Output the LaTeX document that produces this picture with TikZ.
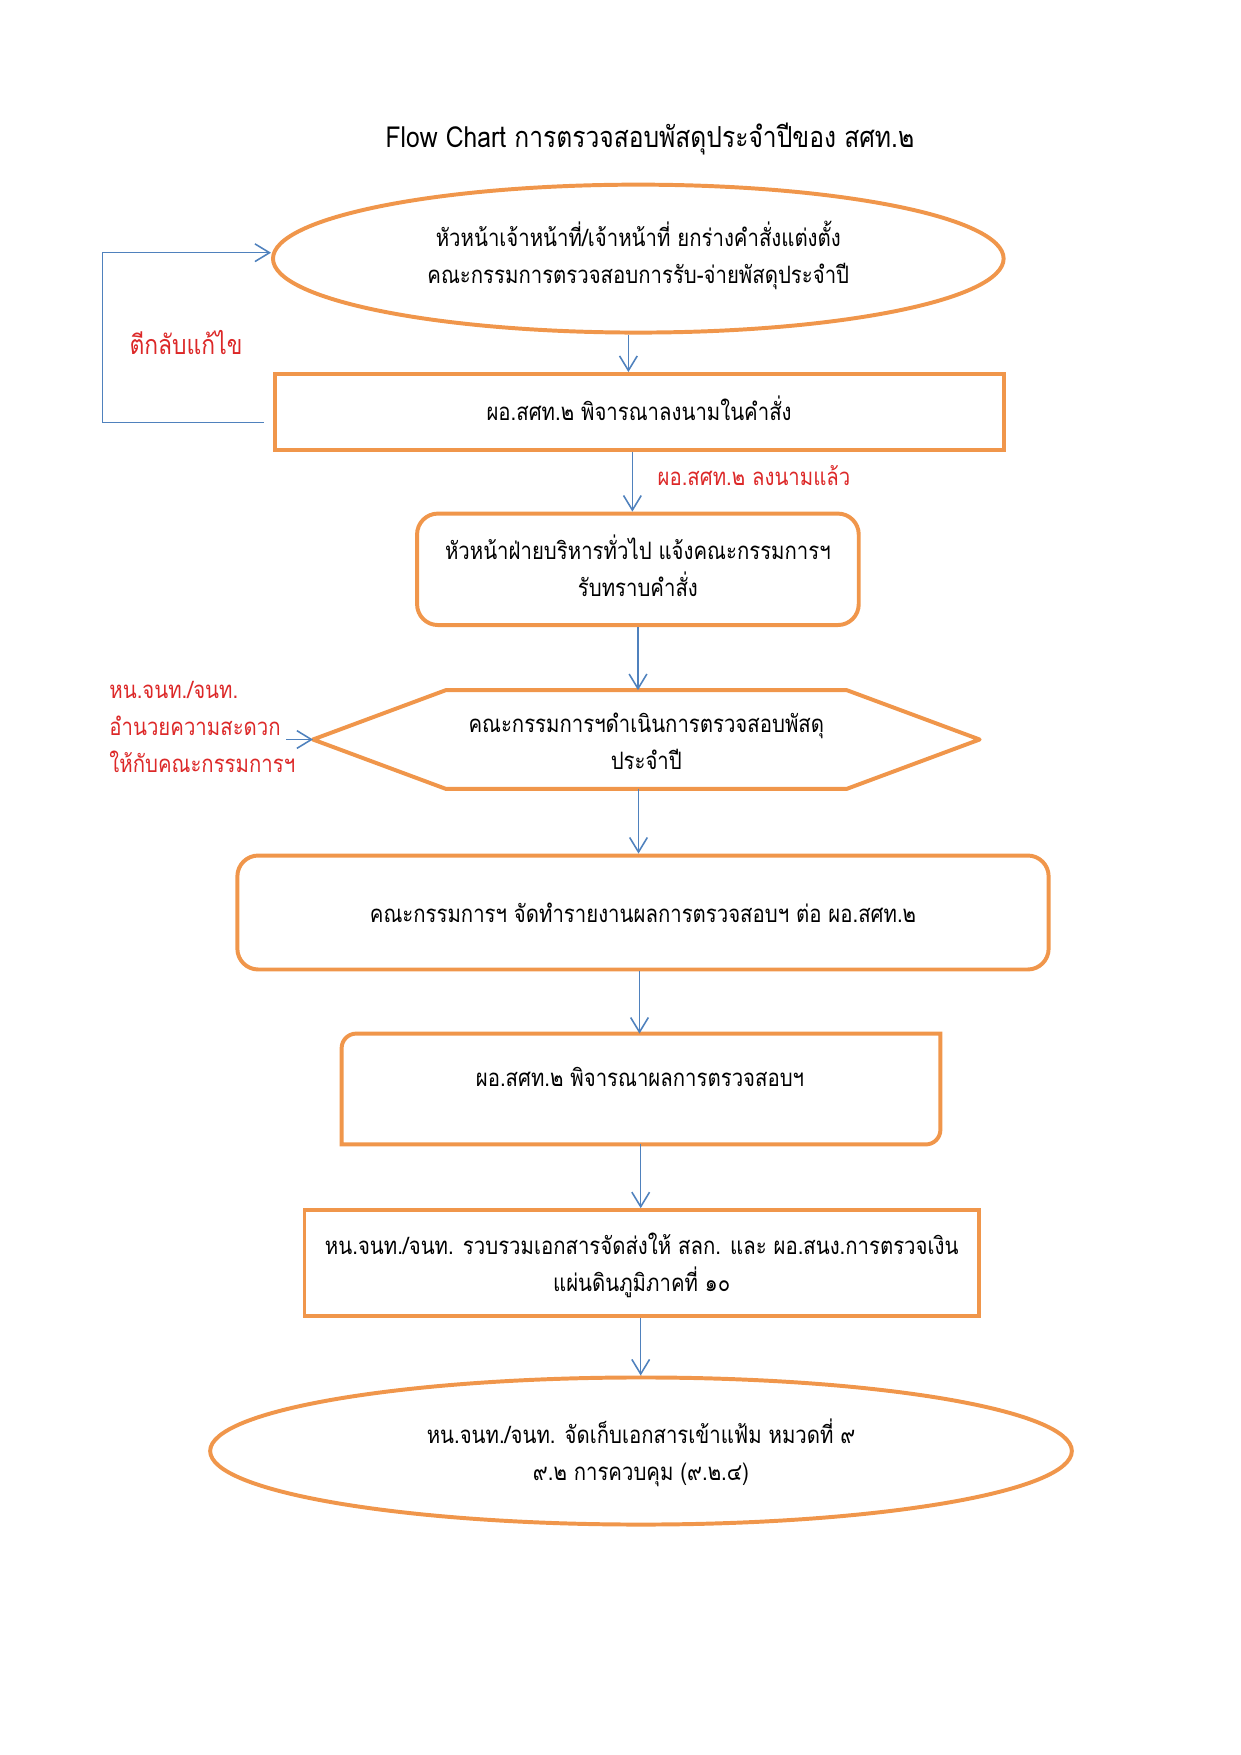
\documentclass[tikz,border=0pt]{standalone}
\usepackage{fontspec}
\setmainfont[Script=Thai,FakeStretch=0.85]{Loma}
\usetikzlibrary{shapes.geometric,arrows.meta}
\definecolor{orng}{RGB}{240,150,75}
\definecolor{lnblue}{RGB}{79,129,189}
\definecolor{txtred}{RGB}{220,40,40}
\newcommand\flowtext{\fontsize{11.5}{17.8}\selectfont}
\newcommand\titletext{\fontsize{13.9}{16}\selectfont}
\begin{document}
\begin{tikzpicture}[x=0.48pt,y=-0.48pt,
  shp/.style={draw=orng, line width=1.9pt, inner sep=0pt, align=center, font=\flowtext},
  plain/.style={inner sep=0pt, align=center, font=\flowtext},
  lbl/.style={inner sep=0pt, align=center, text=txtred, font=\flowtext},
  arr/.style={draw=lnblue, line width=0.75pt, -{Straight Barb[length=7pt,width=8.5pt]}}]
\useasboundingbox (0,0) rectangle (1241,1755);
% title
\node[inner sep=0pt, font=\titletext] (title) at (650,139) {Flow Chart การตรวจสอบพัสดุประจำปีของ สศท.๒};
% shapes
\node[shp, ellipse, minimum width=350.7pt, minimum height=71pt] (e1) at (638.3,258.6) {};
\node[plain] (e1t) at (638.3,255) {หัวหน้าเจ้าหน้าที่/เจ้าหน้าที่ ยกร่างคำสั่งแต่งตั้ง\\คณะกรรมการตรวจสอบการรับ-จ่ายพัสดุประจำปี};
\node[shp, rectangle, minimum width=349.9pt, minimum height=36.5pt] (b2) at (639.1,412) {};
\node[plain] (b2t) at (639.1,408.5) {ผอ.สศท.๒ พิจารณาลงนามในคำสั่ง};
\node[shp, rectangle, rounded corners=10pt, minimum width=212pt, minimum height=53.5pt] (b3) at (637.9,569.3) {};
\node[plain] (b3t) at (637.9,565.8) {หัวหน้าฝ่ายบริหารทั่วไป แจ้งคณะกรรมการฯ\\รับทราบคำสั่ง};
\node[plain, minimum width=319.6pt, minimum height=47pt] (hex) at (646.3,739.5) {};
\node[plain] (hext) at (646.3,741.5) {คณะกรรมการฯดำเนินการตรวจสอบพัสดุ\\ประจำปี};
\draw[draw=orng, line width=1.9pt, line join=round] (hex.west) -- ([xshift=63.8pt]hex.north west) -- ([xshift=-63.8pt]hex.north east)
  -- (hex.east) -- ([xshift=-63.8pt]hex.south east) -- ([xshift=63.8pt]hex.south west) -- cycle;
\node[shp, rectangle, rounded corners=10pt, minimum width=389.4pt, minimum height=54.7pt] (b5) at (643,912.5)
  {คณะกรรมการฯ จัดทำรายงานผลการตรวจสอบฯ ต่อ ผอ.สศท.๒};
\node[plain, minimum width=287pt, minimum height=52.8pt] (b6) at (641,1089) {};
\draw[draw=orng, line width=1.9pt] (b6.south west) -- ([yshift=-7pt]b6.north west) arc[start angle=180, end angle=90, radius=7pt]
  -- (b6.north east) -- ([yshift=7pt]b6.south east) arc[start angle=0, end angle=-90, radius=7pt] -- cycle;
\node[plain] (b6t) at (640,1077) {ผอ.สศท.๒ พิจารณาผลการตรวจสอบฯ};
\node[shp, rectangle, minimum width=323.7pt, minimum height=50.7pt] (b7) at (641.7,1263) {};
\node[plain] (b7t) at (641.7,1265.3) {หน.จนท./จนท. รวบรวมเอกสารจัดส่งให้ สลก. และ ผอ.สนง.การตรวจเงิน\\แผ่นดินภูมิภาคที่ ๑๐};
\node[shp, ellipse, minimum width=413.6pt, minimum height=70.6pt] (e2) at (641,1451) {};
\node[plain] (e2t) at (641,1452.7) {หน.จนท./จนท. จัดเก็บเอกสารเข้าแฟ้ม หมวดที่ ๙\\๙.๒ การควบคุม (๙.๒.๔)};
% labels
\node[lbl, font=\fontsize{12.9}{15}\selectfont] (lback) at (186,342) {ตีกลับแก้ไข};
\node[lbl] (lsign) at (754,476) {ผอ.สศท.๒ ลงนามแล้ว};
\node[lbl, align=left, anchor=west, font=\fontsize{11.5}{17.8}\selectfont] (lhelp) at (109,727) {หน.จนท./จนท.\\อำนวยความสะดวก\\ให้กับคณะกรรมการฯ};
% connector x positions
\coordinate (c1) at (628.4,0);
\coordinate (c2) at (632.4,0);
\coordinate (c3) at (638,0);
\coordinate (c4) at (638.5,0);
\coordinate (c5) at (639.5,0);
\coordinate (c6) at (640.7,0);
\draw[arr] (e1.south -| c1) -- (b2.north -| c1);
\draw[arr] (b2.south -| c2) -- (b3.north -| c2);
\draw[arr] (b3.south -| c3) -- (hex.north -| c3);
\draw[arr] (hex.south -| c4) -- (b5.north -| c4);
\draw[arr] (b5.south -| c5) -- (b6.north -| c5);
\draw[arr] (b6.south -| c6) -- (b7.north -| c6);
\draw[arr] (b7.south -| c6) -- (e2.north -| c6);
% feedback loop
\coordinate (ls) at (263.6,422.3);
\coordinate (lc1) at (102.6,422.3);
\coordinate (lc2) at (102.6,252.7);
\draw[arr] (ls) -- (lc1) -- (lc2) -- (e1.west |- lc2);
% helper arrow
\coordinate (la) at (286,739.5);
\draw[arr] (la) -- (hex.west);
\end{tikzpicture}
\end{document}
